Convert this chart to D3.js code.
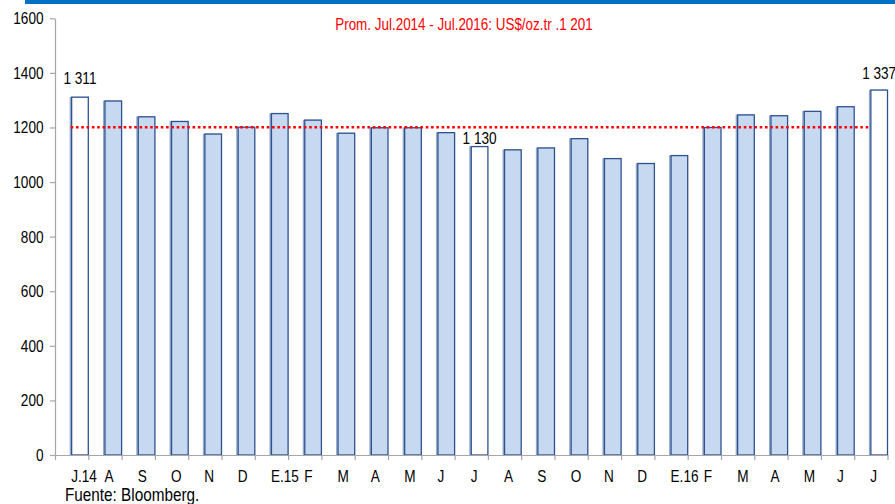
<!DOCTYPE html>
<html>
<head>
<meta charset="utf-8">
<script src="https://cdn.jsdelivr.net/npm/d3@7"></script>
<style>
  html, body { margin: 0; padding: 0; background: #fff; }
  svg { display: block; }
  text { font-family: "Liberation Sans", Arial, sans-serif; }
</style>
</head>
<body>
<svg id="chart" width="895" height="504"></svg>
<script>
// ---- data ----
const categories = ["J.14","A","S","O","N","D","E.15","F","M","A","M","J","J","A","S","O","N","D","E.16","F","M","A","M","J","J"];
const prices = [1311,1297,1239,1222,1176,1201,1251,1227,1179,1199,1199,1181,1130,1118,1125,1159,1086,1068,1097,1200,1246,1243,1259,1276,1337];
const highlighted = [0, 12, 24];          // hollow bars (July of each year)
const labelled = [0, 12, 24];             // bars with a value label
const labelTexts = ["1 311", "1 130", "1 337"];
const averageValue = 1201;
const averageText = "Prom. Jul.2014 - Jul.2016: US$/oz.tr .1 201";
const yTicks = [0,200,400,600,800,1000,1200,1400,1600];
const sourceText = "Fuente: Bloomberg.";

// ---- layout ----
const svg = d3.select("#chart");
const mLeft = 55, mRight = 887.5, mTop = 18.3, mBottom = 455;
const SX = 0.85; // horizontal condensing of text

const y = d3.scaleLinear().domain([0, 1600]).range([mBottom, mTop]);
const xi = d3.scaleLinear().domain([0, categories.length]).range([mLeft, mRight]);
const x = d3.scaleBand().domain(d3.range(categories.length)).range([mLeft, mRight]).paddingInner(0).paddingOuter(0);
const bw = x.bandwidth();

function ctext(g, tx, ty, str, opts) {
  return g.append("text")
    .attr("transform", `translate(${tx},${ty}) scale(${opts.sx || SX},1)`)
    .attr("text-anchor", opts.anchor || "start")
    .attr("font-size", opts.size || 16)
    .attr("fill", opts.fill || "#000")
    .text(str);
}

// top blue band
svg.append("rect").attr("x", 25).attr("y", 0).attr("width", 870).attr("height", 4).attr("fill", "#0070c0");

// y axis
const yAxis = svg.append("g").attr("transform", `translate(${mLeft},0)`)
  .call(d3.axisLeft(y).tickValues(yTicks).tickSize(5).tickSizeOuter(0).tickFormat(""));
yAxis.selectAll("path, line").attr("stroke", "#a6a6a6").attr("stroke-width", 1.2);
const yl = svg.append("g");
yTicks.forEach(v => ctext(yl, 43.5, y(v) + 6, String(v), {anchor: "end", size: 16}));

// bars
const barsG = svg.append("g");
barsG.selectAll("rect.sh").data(prices).join("rect")
  .attr("class", "sh")
  .attr("x", (d, i) => x(i) + bw / 2 - 1.2)
  .attr("y", d => y(d) + 0.5)
  .attr("width", bw / 2)
  .attr("height", d => mBottom - y(d) - 0.5)
  .attr("fill", "none")
  .attr("stroke", "#95abcb")
  .attr("stroke-width", 1.6);
barsG.selectAll("rect.bar").data(prices).join("rect")
  .attr("class", "bar")
  .attr("x", (d, i) => x(i) + bw / 2)
  .attr("y", d => y(d))
  .attr("width", bw / 2)
  .attr("height", d => mBottom - y(d))
  .attr("fill", (d, i) => highlighted.includes(i) ? "#ffffff" : "#c6d9f1")
  .attr("stroke", "#2f528f")
  .attr("stroke-width", 1.3);

// x axis
const xAxis = svg.append("g").attr("transform", `translate(0,${mBottom})`)
  .call(d3.axisBottom(xi).tickValues(d3.range(categories.length + 1)).tickSize(5).tickSizeOuter(0).tickFormat(""));
xAxis.selectAll("path, line").attr("stroke", "#a6a6a6").attr("stroke-width", 1.2);

// x labels
const xl = svg.append("g");
categories.forEach((c, i) => ctext(xl, x(i) + bw / 2 - 0.5, 481.5, c, {size: 16}));

// average line
svg.append("line")
  .attr("x1", x(0) + bw / 2 - 1).attr("x2", x(categories.length - 1) + bw / 2 - 1)
  .attr("y1", y(averageValue)).attr("y2", y(averageValue))
  .attr("stroke", "#ff0000").attr("stroke-width", 2.6)
  .attr("stroke-dasharray", "2.6,2.7");

// value labels
const lg = svg.append("g");
const labelGap = [13, 2.5, 11];
labelled.forEach((idx, k) => {
  ctext(lg, x(idx) + bw * 0.75, y(prices[idx]) - labelGap[k], labelTexts[k], {anchor: "middle", size: 16});
});

// average text
ctext(svg, 464, 30, averageText, {anchor: "middle", size: 16, fill: "#ff0000", sx: 0.84});

// source
ctext(svg, 65, 500.5, sourceText, {size: 18, sx: 0.85});
</script>
</body>
</html>
